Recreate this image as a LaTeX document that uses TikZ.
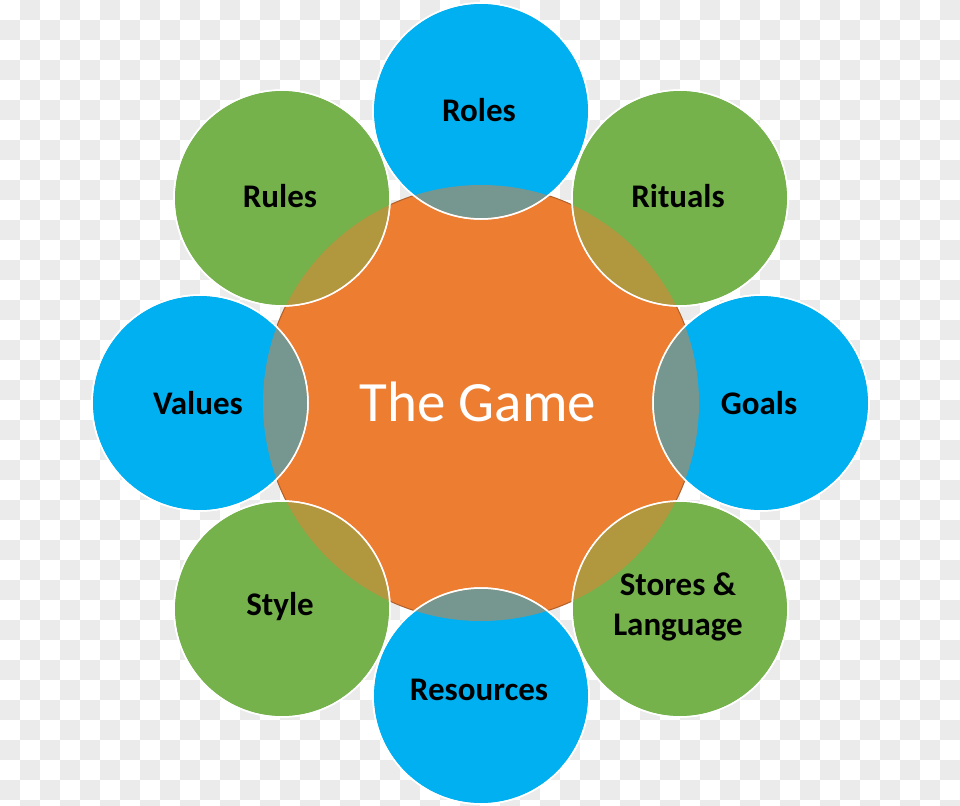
\documentclass[tikz,border=0pt]{standalone}
\usepackage{fontspec}
\setmainfont{Carlito}
\definecolor{bluec}{HTML}{00B0F0}
\definecolor{greenc}{HTML}{75B24C}
\definecolor{orangec}{HTML}{ED7D31}
\definecolor{edgec}{HTML}{B0602A}
\definecolor{checkc}{HTML}{EBEBEB}
\tikzset{
  bubble/.style={circle, minimum size=216pt, inner sep=0pt, draw=white, line width=1.5pt,
    font=\fontsize{33}{40}\selectfont\bfseries, text=black, align=center},
  label/.style={bubble, draw=none, minimum size=0pt, xshift=-2pt},
  core/.style={circle, minimum size=436pt, inner sep=0pt, fill=orangec, draw=edgec, line width=1pt},
  ring/.style={draw=white, line width=1.5pt},
  lens/.style={fill=orangec, fill opacity=0.5},
  title/.style={text=white, font=\fontsize{57}{60}\selectfont}
}
\begin{document}
\begin{tikzpicture}[x=1pt,y=-1pt]
\useasboundingbox (0,0) rectangle (960,805);
\clip (0,0) rectangle (960,805);
\fill[white] (0,0) rectangle (960,805);
\foreach \j in {0,...,40}{
  \pgfmathtruncatemacro\s{1-mod(\j,2)}
  \pgfmathtruncatemacro\t{\s+2}
  \foreach \i in {\s,\t,...,47}{
    \fill[checkc] (\i*20,\j*20) rectangle ++(20,20);
  }
}
\node[core] (game) at (481,403) {};
\node[bubble, fill=bluec]  (roles)     at (481,111) {};
\node[bubble, fill=greenc] (rituals)   at (680,198) {};
\node[bubble, fill=bluec]  (goals)     at (761,403) {};
\node[bubble, fill=greenc] (stores)    at (680,609) {};
\node[bubble, fill=bluec]  (resources) at (481,696) {};
\node[bubble, fill=greenc] (style)     at (282,609) {};
\node[bubble, fill=bluec]  (values)    at (200,403) {};
\node[bubble, fill=greenc] (rules)     at (282,198) {};
\foreach \n in {roles,rituals,goals,stores,resources,style,values,rules}{
  \begin{scope}
    \clip (\n.center) circle (108pt);
    \fill[lens] (game.center) circle (218pt);
  \end{scope}
  \draw[ring] (\n.center) circle (108pt);
}
\node[title] (gametext) at (478,402) {The Game};
\node[label] (l1) at (roles.center) [yshift=1pt] {Roles};
\node[label] (l2) at (rituals.center) [yshift=2pt] {Rituals};
\node[label] (l3) at (goals.center) {Goals};
\node[label] (l4) at (stores.center) [yshift=2pt] {Stores \&\\Language};
\node[label] (l5) at (resources.center) [yshift=6pt] {Resources};
\node[label] (l6) at (style.center) [yshift=2pt] {Style};
\node[label] (l7) at (values.center) {Values};
\node[label] (l8) at (rules.center) [yshift=2pt] {Rules};
\end{tikzpicture}
\end{document}
